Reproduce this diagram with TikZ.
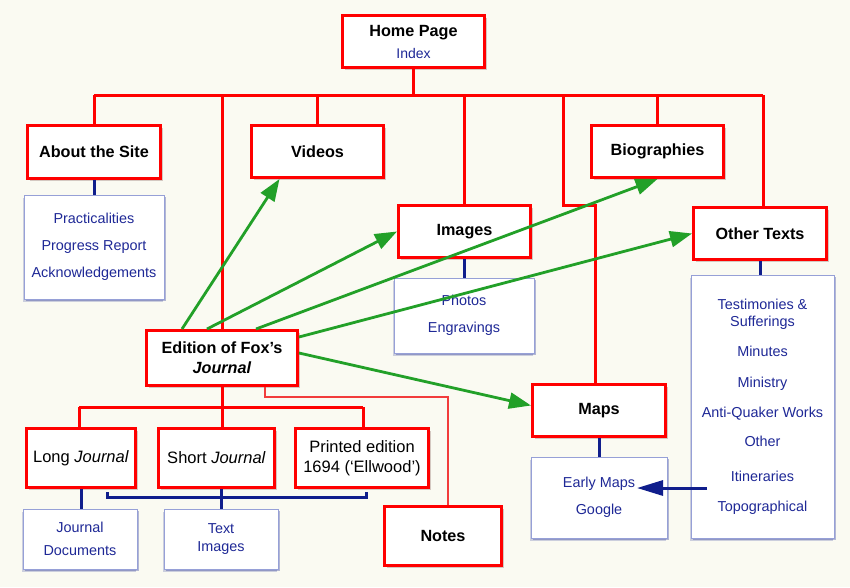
\documentclass[tikz,border=0pt]{standalone}
\usepackage{fontspec}
\setmainfont{Liberation Sans}
\usetikzlibrary{arrows.meta,shadows}
\definecolor{bgcream}{RGB}{250,250,242}
\definecolor{boxred}{RGB}{255,0,0}
\definecolor{notered}{RGB}{242,60,60}
\definecolor{navy}{RGB}{16,30,140}
\definecolor{navytext}{RGB}{30,40,150}
\definecolor{boxedge}{RGB}{150,160,215}
\definecolor{arrowgreen}{RGB}{34,160,40}
\begin{document}
\begin{tikzpicture}[x=1pt,y=-1pt,
    redbox/.style={draw=boxred, line width=3pt, fill=white, align=center, inner sep=2pt,
      font=\fontsize{16.2}{20}\selectfont\bfseries,
      drop shadow={shadow xshift=2.5pt, shadow yshift=-2.5pt, opacity=0.2, fill=black!75!red},
      drop shadow={shadow xshift=1.2pt, shadow yshift=-1.2pt, opacity=0.45, fill=black!75!red}},
    plainbox/.style={redbox, font=\fontsize{16.5}{20}\selectfont},
    bluebox/.style={draw=boxedge, line width=0.8pt, fill=white, align=center, inner sep=2pt,
      text=navytext, font=\fontsize{14.4}{27}\selectfont,
      drop shadow={shadow xshift=-1pt, shadow yshift=-2.5pt, opacity=0.2, fill=navy},
      drop shadow={shadow xshift=1.5pt, shadow yshift=-1.5pt, opacity=0.3, fill=navy}},
    redline/.style={draw=boxred, line width=3pt},
    noteline/.style={draw=notered, line width=2.2pt},
    blueline/.style={draw=navy, line width=3pt},
    greenarrow/.style={draw=arrowgreen, line width=2.8pt, -{Triangle[length=22pt,width=16pt]}}]
  \fill[bgcream] (0,0) rectangle (850,587);
  % main boxes
  \path
    (413.5,41.5) node[redbox, minimum width=142pt, minimum height=52pt] (home)
      {Home Page\\[2pt]{\mdseries\color{navytext}\fontsize{14}{17}\selectfont Index}}
    (94,152) node[redbox, minimum width=133pt, minimum height=53pt] (about) {About the Site}
    (317.5,151.5) node[redbox, minimum width=132pt, minimum height=52pt] (videos) {Videos}
    (657.5,151.5) node[redbox, minimum width=132pt, minimum height=52pt] (bios) {Biographies}
    (464.5,231.5) node[redbox, minimum width=132pt, minimum height=52pt] (images) {Images}
    (760,233.5) node[redbox, minimum width=133pt, minimum height=52pt] (other) {Other Texts}
    (222,358) node[redbox, minimum width=151pt, minimum height=55pt] (edition)
      {Edition of Fox's\\\textit{Journal}}
    (81,458) node[plainbox, minimum width=109pt, minimum height=59pt] (longj) {Long \textit{Journal}}
    (216.5,458) node[plainbox, minimum width=116pt, minimum height=59pt] (shortj) {Short \textit{Journal}}
    (362,458) node[plainbox, minimum width=133pt, minimum height=59pt] (printed)
      {Printed edition\\1694 (`Ellwood')}
    (443,536) node[redbox, minimum width=117pt, minimum height=59pt] (notes) {Notes}
    (599,410.5) node[redbox, minimum width=133pt, minimum height=52pt] (maps) {Maps};
  % sub lists
  \path
    (94,247) node[bluebox, minimum width=140pt, minimum height=104pt] (aboutsub)
      {Practicalities\\Progress Report\\Acknowledgements}
    (464,315.5) node[bluebox, minimum width=140pt, minimum height=75pt] (imagessub)
      {Photos\\Engravings}
    (762.5,406.5) node[bluebox, minimum width=143pt, minimum height=263pt,
        font=\fontsize{14.4}{17}\selectfont] (othersub)
      {Testimonies \&\\Sufferings\\[13pt]Minutes\\[14pt]Ministry\\[13pt]Anti-Quaker Works\\[12pt]Other\\[18pt]Itineraries\\[13pt]Topographical}
    (599,497.5) node[bluebox, minimum width=136pt, minimum height=81pt] (mapssub)
      {Early Maps\\Google}
    (80,539) node[bluebox, minimum width=114pt, minimum height=60pt,
        font=\fontsize{14.4}{23}\selectfont] (longsub) {Journal\\Documents}
    (221,539) node[bluebox, minimum width=114pt, minimum height=60pt,
        font=\fontsize{14.4}{18}\selectfont] (shortsub) {Text\\Images};
  \coordinate (busL) at (94,95);
  \coordinate (busR) at (763,95);
  \coordinate (mapsdrop) at (563,95);
  \coordinate (mapsjog) at (595,205);
  \coordinate (ebusL) at (79,407);
  \coordinate (ebusR) at (363,407);
  \coordinate (notesjog) at (448,397);
  \coordinate (brL) at (107,492);
  \coordinate (brR) at (366,492);
  \coordinate (itin) at (707,488);
  \coordinate (early) at (637,488);
  \begin{scope}[redline]
    \draw (home.south) -- (home.south |- busL);
    \draw (busL) -- (busR);
    \draw (busL) -- (about.north);
    \draw (edition.north) -- (edition.north |- busL);
    \draw (videos.north) -- (videos.north |- busL);
    \draw (images.north) -- (images.north |- busL);
    \draw (bios.north) -- (bios.north |- busL);
    \draw (busR) -- (busR |- other.north);
    \draw (mapsdrop) |- (mapsjog) -- (mapsjog |- maps.north);
    \draw (edition.south) -- (edition.south |- ebusL);
    \draw (ebusL) -- (ebusR);
    \draw (ebusL) -- (ebusL |- longj.north);
    \draw (edition.south |- ebusL) -- (edition.south |- shortj.north);
    \draw (ebusR) -- (ebusR |- printed.north);
  \end{scope}
  \draw[noteline] ([xshift=43pt]edition.south) |- (notesjog) -- (notesjog |- notes.north);
  \begin{scope}[blueline]
    \draw (about.south) -- (aboutsub.north);
    \draw (images.south) -- (images.south |- imagessub.north);
    \draw (other.south) -- (other.south |- othersub.north);
    \draw (maps.south) -- (mapssub.north);
    \draw (longj.south) -- (longj.south |- longsub.north);
    \draw (shortsub.north) -- (shortsub.north |- shortj.south);
    \draw (brL) -- ++(0,5) -| (brR);
    \draw[-{Triangle[length=26pt,width=15pt]}] (itin) -- (early);
  \end{scope}
  \begin{scope}[greenarrow]
    \draw ([xshift=-40pt]edition.north) -- ([xshift=-38pt]videos.south);
    \draw ([xshift=-15pt]edition.north) -- (images.west);
    \draw ([xshift=34pt]edition.north) -- (bios.south);
    \draw ([yshift=-8pt]edition.north east) -- (other.west);
    \draw ([yshift=5pt]edition.east) -- ([yshift=5pt]maps.west);
  \end{scope}
\end{tikzpicture}
\end{document}
